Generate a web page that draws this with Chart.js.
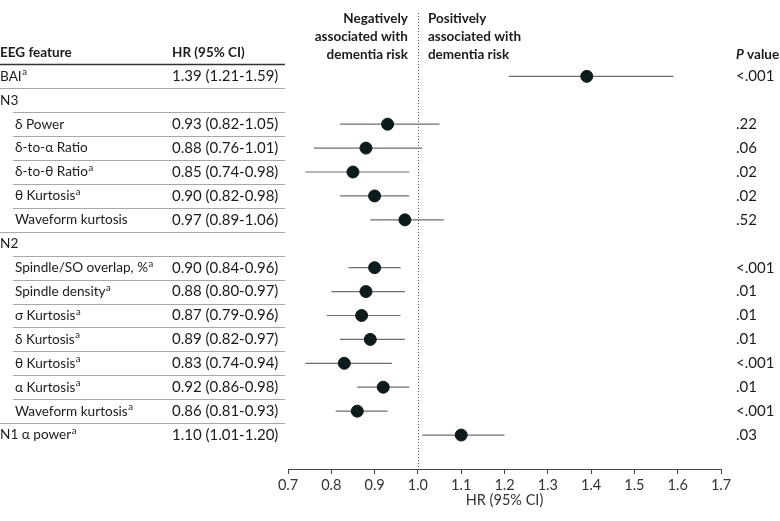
<!DOCTYPE html>
<html>
<head>
<meta charset="utf-8">
<script src="https://cdn.jsdelivr.net/npm/chart.js@4.4.1/dist/chart.umd.min.js"></script>
<style>
html, body { margin: 0; padding: 0; background: #fff; }
#wrap { position: relative; width: 780px; height: 521px; }
</style>
</head>
<body>
<div id="wrap"><canvas id="forest"></canvas></div>
<script>
// rows, top to bottom
var rowLabels = ["BAI", "N3", "δ Power", "δ-to-α Ratio", "δ-to-θ Ratio", "θ Kurtosis", "Waveform kurtosis",
    "N2", "Spindle/SO overlap, %", "Spindle density", "σ Kurtosis", "δ Kurtosis", "θ Kurtosis", "α Kurtosis",
    "Waveform kurtosis", "N1 α power"];
var rowFootnote = [1, 0, 0, 0, 1, 1, 0, 0, 1, 1, 1, 1, 1, 1, 1, 1];
var rowIndent = [0, 0, 1, 1, 1, 1, 1, 0, 1, 1, 1, 1, 1, 1, 1, 0];
var hrValues = [1.39, null, 0.93, 0.88, 0.85, 0.90, 0.97, null, 0.90, 0.88, 0.87, 0.89, 0.83, 0.92, 0.86, 1.10];
var ciLow = [1.21, null, 0.82, 0.76, 0.74, 0.82, 0.89, null, 0.84, 0.80, 0.79, 0.82, 0.74, 0.86, 0.81, 1.01];
var ciHigh = [1.59, null, 1.05, 1.01, 0.98, 0.98, 1.06, null, 0.96, 0.97, 0.96, 0.97, 0.94, 0.98, 0.93, 1.20];
var pValues = ["<.001", "", ".22", ".06", ".02", ".02", ".52", "", "<.001", ".01", ".01", ".01", "<.001", ".01", "<.001", ".03"];
var xTicks = [0.7, 0.8, 0.9, 1.0, 1.1, 1.2, 1.3, 1.4, 1.5, 1.6, 1.7];
var negText = ["Negatively", "associated with", "dementia risk"];
var posText = ["Positively", "associated with", "dementia risk"];

var FONT = "Lato";
var INK = "#1b1b1b";
var BOLD = "bold 13.5px " + FONT;
var LABEL = "13.6px " + FONT;
var NUM = "15px " + FONT;

// point estimates
var pointData = [];
for (var i = 0; i < rowLabels.length; i++) {
    if (hrValues[i] !== null) pointData.push({x: hrValues[i], y: i});
}

let datasets = [];
datasets.push({
    type: "scatter",
    data: pointData,
    pointRadius: 6,
    pointHoverRadius: 6,
    backgroundColor: "#0e1b1d",
    borderColor: "#0e1b1d",
    order: 0
});
// one short line per CI
for (var i = 0; i < rowLabels.length; i++) {
    if (ciLow[i] === null) continue;
    datasets.push({
        type: "line",
        data: [{x: ciLow[i], y: i}, {x: ciHigh[i], y: i}],
        borderColor: "#6e6e6e",
        borderWidth: 1.2,
        pointRadius: 0,
        fill: false,
        order: 1
    });
}

function hrLabel(i) {
    return hrValues[i].toFixed(2) + " (" + ciLow[i].toFixed(2) + "-" + ciHigh[i].toFixed(2) + ")";
}

// table + annotations drawn beside the plot area
var tablePlugin = {
    id: "forestTable",
    afterDraw: function (chart) {
        var ctx = chart.ctx;
        var y = chart.scales.y;
        var x = chart.scales.x;
        ctx.save();
        ctx.textBaseline = "middle";
        ctx.fillStyle = INK;

        // header
        var hy = y.getPixelForValue(-1);
        ctx.font = BOLD;
        ctx.textAlign = "left";
        ctx.fillText("EEG feature", 0, hy);
        ctx.fillText("HR (95% CI)", 172, hy);
        ctx.font = "italic " + BOLD;
        ctx.fillText("P", 736, hy + 2);
        var pw = ctx.measureText("P").width;
        ctx.font = BOLD;
        ctx.fillText(" value", 736 + pw, hy + 2);

        // header rule
        var ly = y.getPixelForValue(-0.5);
        ctx.strokeStyle = "#333";
        ctx.lineWidth = 1.5;
        ctx.beginPath();
        ctx.moveTo(0, ly);
        ctx.lineTo(285, ly);
        ctx.stroke();

        // rows
        for (var i = 0; i < rowLabels.length; i++) {
            var ry = y.getPixelForValue(i);
            var lx = rowIndent[i] ? 15 : 0;
            ctx.font = LABEL;
            ctx.textAlign = "left";
            ctx.fillText(rowLabels[i], lx, ry);
            if (rowFootnote[i]) {
                var w = ctx.measureText(rowLabels[i]).width;
                ctx.font = "9.5px " + FONT;
                ctx.fillText("a", lx + w + 0.5, ry - 4);
            }
            ctx.font = NUM;
            if (hrValues[i] !== null) ctx.fillText(hrLabel(i), 172, ry);
            if (pValues[i]) ctx.fillText(pValues[i], 736, ry);

            if (i < rowLabels.length - 1) {
                var sy = Math.round(y.getPixelForValue(i + 0.5)) + 0.5;
                ctx.strokeStyle = "#a8a8a8";
                ctx.lineWidth = 1;
                ctx.beginPath();
                ctx.moveTo(rowIndent[i + 1] ? 13 : 0, sy);
                ctx.lineTo(285, sy);
                ctx.stroke();
            }
        }

        // direction notes either side of HR = 1
        var cx = x.getPixelForValue(1.0);
        ctx.font = BOLD;
        for (var k = 0; k < negText.length; k++) {
            var ty = 19 + k * 18;
            ctx.textAlign = "right";
            ctx.fillText(negText[k], cx - 10, ty);
            ctx.textAlign = "left";
            ctx.fillText(posText[k], cx + 10, ty);
        }
        ctx.restore();
    },
    beforeDatasetsDraw: function (chart) {
        var ctx = chart.ctx;
        var px = Math.round(chart.scales.x.getPixelForValue(1.0)) + 0.5;
        ctx.save();
        ctx.strokeStyle = "#555";
        ctx.lineWidth = 1;
        ctx.setLineDash([1, 2]);
        ctx.beginPath();
        ctx.moveTo(px, chart.chartArea.top);
        ctx.lineTo(px, chart.chartArea.bottom);
        ctx.stroke();
        ctx.restore();
    }
};

var ctx = document.getElementById("forest");
var forestChart = new Chart(ctx, {
    data: {datasets: datasets},
    options: {
        responsive: true,
        maintainAspectRatio: false,
        animation: false,
        devicePixelRatio: 1,
        layout: {padding: {left: 288, right: 59, top: 13, bottom: 0}},
        plugins: {legend: {display: false}, tooltip: {enabled: false}},
        scales: {
            x: {
                type: "linear",
                min: 0.7,
                max: 1.7,
                afterBuildTicks: function (scale) {
                    scale.ticks = xTicks.map(function (v) { return {value: v}; });
                },
                afterFit: function (scale) { scale.height = 52; },
                grid: {drawOnChartArea: false, drawTicks: true, tickLength: 5, color: "#444"},
                border: {display: true, color: "#444", width: 1},
                ticks: {
                    padding: 3,
                    color: "#333",
                    font: {family: FONT, size: 14.5},
                    callback: function (v) { return Number(v).toFixed(1); }
                },
                title: {
                    display: true,
                    text: "HR (95% CI)",
                    color: "#333",
                    font: {family: FONT, size: 14.5},
                    padding: {top: 2, bottom: 12}
                }
            },
            y: {
                type: "linear",
                reverse: true,
                min: -2.65,
                max: 16.42,
                display: false
            }
        }
    },
    plugins: [tablePlugin]
});
</script>
</body>
</html>
